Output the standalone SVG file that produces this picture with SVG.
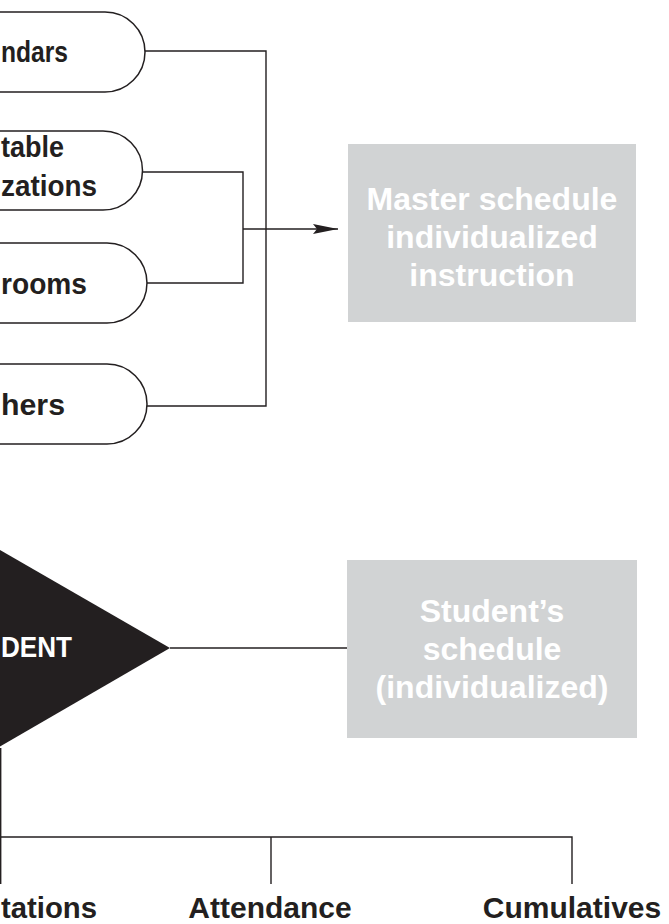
<svg xmlns="http://www.w3.org/2000/svg" width="669" height="924" viewBox="0 0 669 924">
<style>
.pill{fill:#fff;stroke:#231f20;stroke-width:1.5}
.lbl{font-family:"Liberation Sans",Arial,sans-serif;font-weight:bold;font-size:30px;fill:#231f20}
.wht{font-family:"Liberation Sans",Arial,sans-serif;font-weight:bold;font-size:32px;fill:#ffffff;text-anchor:middle}
.box{fill:#d1d3d4}
.ln{fill:none;stroke:#231f20;stroke-width:1.4}
</style>
<defs>
<marker id="arr" markerWidth="26" markerHeight="12" refX="25" refY="5" orient="auto" markerUnits="userSpaceOnUse">
<path d="M0,0 L25,5 L0,10 L4,5 z" fill="#231f20"/>
</marker>
</defs>
<g id="connectors">
<polyline class="ln" points="145,51 266,51 266,406 147,406"/>
<polyline class="ln" points="143,172 243,172 243,283 147,283"/>
<line class="ln" x1="243" y1="229" x2="338" y2="229" marker-end="url(#arr)"/>
<line class="ln" x1="170" y1="648" x2="347" y2="648"/>
<polyline class="ln" points="0.7,748 0.7,837 572,837 572,884"/>
<line class="ln" x1="0.7" y1="837" x2="0.7" y2="884"/>
<line class="ln" x1="271" y1="837" x2="271" y2="884"/>
</g>
<g id="calendars">
<path class="pill" d="M-10,12 H105 A40,40 0 0 1 105,92 H-10"/>
<text class="lbl" x="1" y="62" textLength="67" lengthAdjust="spacingAndGlyphs">ndars</text>
</g>
<g id="organizations">
<path class="pill" d="M-10,131 H103 A39.5,39.5 0 0 1 103,210 H-10"/>
<text class="lbl" x="1" y="157" textLength="63" lengthAdjust="spacingAndGlyphs">table</text>
<text class="lbl" x="1" y="196" textLength="96" lengthAdjust="spacingAndGlyphs">zations</text>
</g>
<g id="classrooms">
<path class="pill" d="M-10,243 H107 A40,40 0 0 1 107,323 H-10"/>
<text class="lbl" x="1" y="294" textLength="86" lengthAdjust="spacingAndGlyphs">rooms</text>
</g>
<g id="teachers">
<path class="pill" d="M-10,364 H107 A40,40 0 0 1 107,444 H-10"/>
<text class="lbl" x="1" y="415" textLength="64" lengthAdjust="spacingAndGlyphs">hers</text>
</g>
<g id="master">
<rect class="box" x="348" y="144" width="288" height="178"/>
<text class="wht" x="492" y="210">Master schedule</text>
<text class="wht" x="492" y="248">individualized</text>
<text class="wht" x="492" y="286">instruction</text>
</g>
<g id="student">
<polygon points="-20,538.5 170,648 -20,758" fill="#231f20"/>
<text x="1" y="657" textLength="71" lengthAdjust="spacingAndGlyphs" style="font-family:'Liberation Sans',Arial,sans-serif;font-weight:bold;font-size:30px;fill:#fff">DENT</text>
</g>
<g id="student-schedule">
<rect class="box" x="347" y="560" width="290" height="178"/>
<text class="wht" x="492" y="622">Student’s</text>
<text class="wht" x="492" y="660">schedule</text>
<text class="wht" x="492" y="698">(individualized)</text>
</g>
<g id="expectations">
<text class="lbl" x="1" y="918" textLength="96" lengthAdjust="spacingAndGlyphs">tations</text>
</g>
<g id="attendance">
<text class="lbl" x="270" y="918" text-anchor="middle">Attendance</text>
</g>
<g id="cumulatives">
<text class="lbl" x="572" y="918" text-anchor="middle">Cumulatives</text>
</g>
</svg>
